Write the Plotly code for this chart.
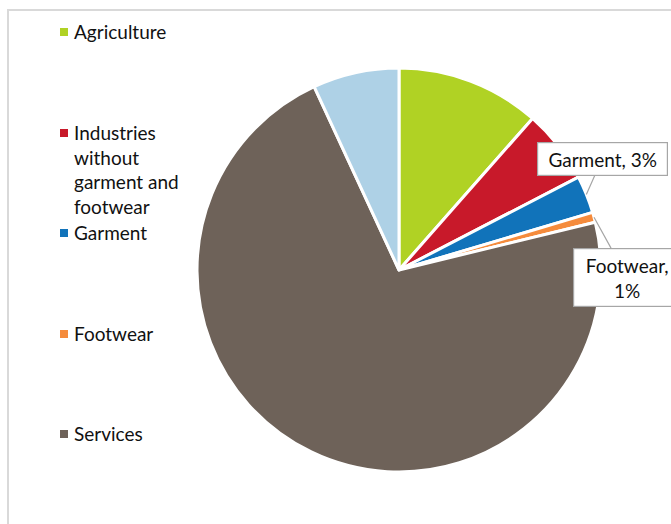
import math
import plotly.graph_objects as go

# ---- data ----
categories = ["Agriculture", "Industries without garment and footwear", "Garment", "Footwear", "Services", "Other"]
legend_labels = ["Agriculture", "Industries<br>without<br>garment and<br>footwear", "Garment", "Footwear", "Services"]
values = [11.5, 5.9, 3.0, 0.8, 71.9, 6.9]
colors = ["#B0D224", "#C8192A", "#1173BA", "#F58B3C", "#6E6259", "#AED1E6"]
callout_labels = {"Garment": "Garment, 3%", "Footwear": "Footwear,<br>1%"}

W, H = 671, 524
FONT = "Lato"
FS = 19

def px(x):
    return x / W

def py(y):
    return 1 - y / H

cx, cy, r = 399, 270, 202

fig = go.Figure()
fig.add_trace(go.Pie(
    labels=categories,
    values=values,
    sort=False,
    direction="clockwise",
    rotation=0,
    marker=dict(colors=colors, line=dict(color="white", width=3)),
    textinfo="none",
    showlegend=False,
    domain=dict(x=[px(cx - r), px(cx + r)], y=[py(cy + r), py(cy - r)]),
))

shapes = []
annotations = []

# chart frame
shapes.append(dict(type="rect", xref="paper", yref="paper",
                   x0=px(8), x1=px(W + 20), y0=py(H + 20), y1=py(10),
                   line=dict(color="#D9D9D9", width=2), fillcolor="rgba(0,0,0,0)", layer="below"))

# legend (custom spacing like the original)
leg_y = [32, 133, 233, 334, 434]
for lab, col, yy in zip(legend_labels, colors, leg_y):
    shapes.append(dict(type="rect", xref="paper", yref="paper",
                       x0=px(60), x1=px(68), y0=py(yy + 4), y1=py(yy - 4),
                       fillcolor=col, line=dict(width=0)))
    annotations.append(dict(xref="paper", yref="paper", x=px(72), y=py(yy - 14),
                            xanchor="left", yanchor="top", align="left",
                            text=lab, showarrow=False,
                            font=dict(family=FONT, size=FS, color="#111111")))

# callout labels pointing to slice edges
cum = 0
total = sum(values)
offsets = {"Garment": (602, 159, 121, 24), "Footwear": (627, 277, 98, 49)}
for cat, v in zip(categories, values):
    mid = (cum + v / 2) / total * 2 * math.pi
    cum += v
    if cat in callout_labels:
        hx = cx + r * math.sin(mid)
        hy = cy - r * math.cos(mid)
        bx, by, bw, bh = offsets[cat]
        annotations.append(dict(xref="paper", yref="paper", x=px(hx), y=py(hy),
                                ax=bx - hx, ay=by - hy, axref="pixel", ayref="pixel",
                                text=callout_labels[cat], showarrow=True, arrowhead=0,
                                arrowwidth=1.2, arrowcolor="#A6A6A6",
                                bgcolor="white", bordercolor="#A6A6A6", borderwidth=1.2,
                                borderpad=4, width=bw, height=bh, align="center",
                                font=dict(family=FONT, size=FS, color="#111111")))

fig.update_layout(
    width=W, height=H, autosize=False,
    margin=dict(l=0, r=0, t=0, b=0),
    paper_bgcolor="white", plot_bgcolor="white",
    shapes=shapes, annotations=annotations,
    font=dict(family=FONT),
)

fig.write_html("out.html")
